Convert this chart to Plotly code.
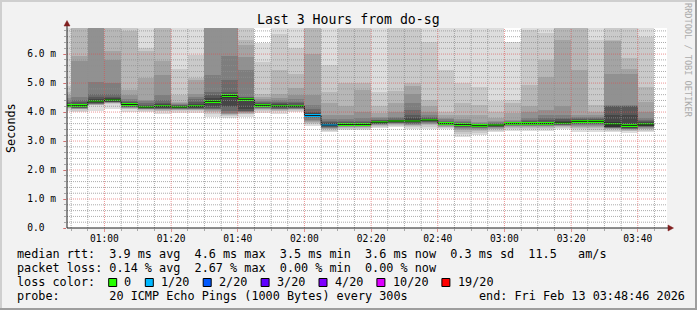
import plotly.graph_objects as go
import pandas as pd

# ------------------------------------------------------------------ data
title_text = "Last 3 Hours from do-sg"
x_start = pd.Timestamp("2026-02-13 00:48:46")
x_end = pd.Timestamp("2026-02-13 03:48:46")
bin_start = pd.date_range("2026-02-13 00:45:00", periods=36, freq="5min")
bin_seconds = 300
y_max = 6.9

# median rtt per 5-minute bin (ms)
median_ms = [4.22, 4.22, 4.38, 4.42, 4.26, 4.17, 4.20, 4.17, 4.20, 4.37, 4.57, 4.44,
             4.23, 4.20, 4.20, 3.88, 3.55, 3.57, 3.57, 3.65, 3.69, 3.69, 3.72, 3.60,
             3.57, 3.53, 3.55, 3.60, 3.60, 3.60, 3.63, 3.68, 3.68, 3.58, 3.54, 3.58]

# lost pings (out of 20) per bin
loss_pings = [0, 0, 0, 0, 0, 0, 0, 0, 0, 0, 0, 0,
              0, 0, 0, 1, 1, 0, 0, 0, 0, 0, 0, 0,
              0, 0, 0, 0, 0, 0, 0, 0, 0, 0, 0, 0]

# the 20 sorted ping times per bin (ms) - the "smoke"
pings_ms = [
    [4.02, 4.09, 4.13, 4.15, 4.17, 4.18, 4.19, 4.20, 4.21, 4.22, 4.25, 4.28, 4.31, 4.35, 4.40, 4.48, 4.58, 4.70, 4.90, 7.30],
    [3.99, 4.05, 4.10, 4.11, 4.12, 4.13, 4.14, 4.15, 4.17, 4.20, 4.24, 4.27, 4.33, 4.42, 4.53, 5.76, 5.93, 7.20, 7.80, 8.60],
    [4.02, 4.24, 4.25, 4.26, 4.27, 4.28, 4.29, 4.30, 4.31, 4.34, 4.42, 4.46, 4.53, 4.61, 5.05, 7.10, 7.40, 7.90, 8.50, 9.30],
    [4.09, 4.29, 4.30, 4.31, 4.32, 4.33, 4.34, 4.35, 4.36, 4.39, 4.45, 4.48, 4.52, 4.61, 4.99, 5.79, 6.10, 7.10, 7.70, 8.40],
    [4.01, 4.10, 4.12, 4.14, 4.15, 4.16, 4.17, 4.19, 4.21, 4.24, 4.28, 4.30, 4.33, 4.38, 4.45, 4.60, 4.76, 6.79, 7.20, 7.90],
    [4.00, 4.04, 4.07, 4.09, 4.10, 4.11, 4.12, 4.13, 4.14, 4.15, 4.19, 4.22, 4.25, 4.30, 4.38, 4.41, 5.16, 6.10, 6.20, 7.30],
    [3.94, 4.02, 4.05, 4.07, 4.09, 4.10, 4.12, 4.13, 4.15, 4.18, 4.23, 4.27, 4.32, 4.40, 4.59, 5.28, 5.76, 7.30, 7.90, 8.80],
    [3.97, 4.03, 4.06, 4.08, 4.10, 4.11, 4.12, 4.13, 4.14, 4.15, 4.19, 4.21, 4.23, 4.25, 4.27, 4.30, 4.33, 4.59, 5.50, 7.40],
    [3.96, 4.02, 4.06, 4.08, 4.10, 4.11, 4.12, 4.13, 4.15, 4.18, 4.22, 4.28, 4.35, 4.45, 4.53, 4.64, 5.10, 5.16, 5.97, 7.50],
    [3.84, 3.92, 3.99, 4.03, 4.06, 4.09, 4.11, 4.13, 4.20, 4.30, 4.42, 4.50, 4.60, 4.70, 5.28, 7.20, 7.60, 8.10, 8.90, 9.80],
    [3.78, 3.88, 3.90, 3.92, 3.95, 3.98, 4.05, 4.18, 4.22, 4.50, 4.62, 4.63, 4.70, 5.10, 5.94, 7.30, 7.80, 8.40, 9.10, 10.2],
    [3.84, 3.93, 3.95, 3.97, 3.99, 4.01, 4.03, 4.05, 4.10, 4.40, 4.48, 4.50, 4.52, 4.53, 5.45, 5.91, 6.30, 6.48, 7.40, 8.20],
    [3.98, 4.04, 4.07, 4.09, 4.11, 4.13, 4.15, 4.17, 4.19, 4.22, 4.25, 4.28, 4.30, 4.33, 4.38, 4.45, 4.53, 4.64, 5.73, 6.37],
    [3.94, 4.02, 4.05, 4.07, 4.09, 4.10, 4.12, 4.14, 4.16, 4.18, 4.23, 4.27, 4.30, 4.35, 4.42, 4.50, 4.64, 5.45, 6.68, 7.60],
    [3.99, 4.04, 4.07, 4.09, 4.10, 4.12, 4.13, 4.15, 4.16, 4.18, 4.23, 4.26, 4.30, 4.35, 4.45, 4.59, 4.82, 5.33, 6.20, 7.40],
    [3.52, 3.58, 3.62, 3.66, 3.70, 3.74, 3.78, 3.82, 3.85, 3.89, 3.93, 3.97, 4.01, 4.10, 4.24, 4.59, 6.02, 7.30, 8.00, 9.10],
    [3.30, 3.36, 3.40, 3.42, 3.44, 3.46, 3.48, 3.50, 3.52, 3.55, 3.59, 3.62, 3.65, 3.70, 3.75, 3.90, 4.30, 4.70, 5.62, 7.50],
    [3.38, 3.43, 3.46, 3.48, 3.50, 3.51, 3.52, 3.53, 3.54, 3.55, 3.60, 3.62, 3.66, 3.70, 3.75, 3.90, 4.20, 4.99, 7.20, 7.90],
    [3.38, 3.43, 3.46, 3.48, 3.50, 3.51, 3.52, 3.53, 3.54, 3.55, 3.59, 3.62, 3.66, 3.70, 3.78, 4.00, 4.75, 4.99, 7.30, 8.10],
    [3.45, 3.50, 3.53, 3.55, 3.57, 3.58, 3.59, 3.60, 3.61, 3.63, 3.67, 3.69, 3.71, 3.74, 3.78, 3.84, 3.96, 4.20, 4.70, 7.40],
    [3.48, 3.53, 3.56, 3.58, 3.60, 3.61, 3.62, 3.63, 3.64, 3.67, 3.70, 3.72, 3.74, 3.78, 3.84, 4.01, 4.30, 4.72, 7.30, 8.00],
    [3.42, 3.48, 3.52, 3.55, 3.57, 3.58, 3.60, 3.62, 3.64, 3.66, 3.72, 3.80, 3.90, 4.07, 4.30, 4.64, 4.90, 4.99, 7.20, 7.80],
    [3.43, 3.50, 3.55, 3.58, 3.60, 3.62, 3.64, 3.66, 3.68, 3.70, 3.75, 3.77, 3.80, 3.84, 3.90, 4.01, 4.20, 4.41, 6.43, 7.50],
    [3.40, 3.45, 3.48, 3.50, 3.52, 3.54, 3.55, 3.56, 3.57, 3.58, 3.62, 3.65, 3.67, 3.70, 3.75, 3.80, 3.90, 4.01, 5.45, 7.30],
    [3.15, 3.25, 3.32, 3.38, 3.42, 3.45, 3.48, 3.50, 3.52, 3.55, 3.58, 3.61, 3.63, 3.66, 3.70, 3.75, 3.90, 4.30, 4.99, 7.40],
    [3.20, 3.28, 3.34, 3.38, 3.42, 3.44, 3.46, 3.48, 3.49, 3.51, 3.55, 3.57, 3.58, 3.60, 3.62, 3.67, 3.90, 4.24, 4.87, 7.20],
    [3.30, 3.36, 3.40, 3.43, 3.45, 3.47, 3.49, 3.50, 3.52, 3.53, 3.56, 3.58, 3.60, 3.62, 3.64, 3.68, 3.78, 4.01, 4.38, 7.30],
    [3.35, 3.42, 3.46, 3.49, 3.51, 3.53, 3.54, 3.55, 3.56, 3.58, 3.61, 3.63, 3.64, 3.66, 3.68, 3.73, 3.96, 4.30, 4.41, 6.43],
    [3.35, 3.42, 3.46, 3.49, 3.51, 3.53, 3.54, 3.55, 3.56, 3.58, 3.62, 3.65, 3.68, 3.72, 3.78, 4.01, 4.20, 4.93, 6.82, 7.40],
    [3.35, 3.42, 3.46, 3.49, 3.51, 3.53, 3.54, 3.55, 3.56, 3.58, 3.63, 3.66, 3.72, 3.78, 3.90, 4.07, 5.22, 5.79, 6.74, 7.60],
    [3.40, 3.45, 3.49, 3.51, 3.53, 3.55, 3.56, 3.57, 3.58, 3.60, 3.67, 3.70, 3.75, 3.80, 3.90, 4.20, 6.48, 7.20, 7.80, 8.50],
    [3.32, 3.40, 3.46, 3.50, 3.53, 3.56, 3.58, 3.60, 3.62, 3.66, 3.71, 3.73, 3.75, 3.78, 3.82, 3.90, 5.45, 7.10, 7.70, 8.40],
    [3.30, 3.38, 3.44, 3.49, 3.53, 3.56, 3.58, 3.60, 3.62, 3.66, 3.71, 3.73, 3.75, 3.78, 3.82, 3.90, 4.01, 4.24, 6.48, 7.30],
    [3.30, 3.36, 3.40, 3.42, 3.44, 3.45, 3.46, 3.47, 3.48, 3.50, 3.66, 3.90, 4.20, 4.22, 4.24, 5.33, 6.45, 6.48, 7.50, 8.20],
    [3.28, 3.33, 3.36, 3.38, 3.40, 3.41, 3.42, 3.44, 3.46, 3.48, 3.60, 3.90, 4.20, 4.22, 4.24, 5.33, 5.50, 5.85, 7.30, 8.00],
    [3.30, 3.36, 3.40, 3.43, 3.45, 3.47, 3.49, 3.51, 3.53, 3.55, 3.61, 3.65, 3.68, 3.72, 3.78, 4.01, 4.36, 4.87, 6.60, 7.40],
]

y_tick_vals = [0, 1, 2, 3, 4, 5, 6]
y_tick_text = ["0.0\u00a0\u00a0", "1.0 m", "2.0 m", "3.0 m", "4.0 m", "5.0 m", "6.0 m"]

loss_levels = [0, 1, 2, 3, 4, 10, 19]
loss_labels = ["0", "1/20", "2/20", "3/20", "4/20", "10/20", "19/20"]
loss_colors = ["#26ff00", "#00b8ff", "#0059ff", "#5e00ff", "#7e00ff", "#dd00ff", "#ff0000"]

line_rtt = "median rtt:  3.9 ms avg  4.6 ms max  3.5 ms min  3.6 ms now  0.3 ms sd  11.5   am/s"
line_loss = "packet loss: 0.14 % avg  2.67 % max  0.00 % min  0.00 % now"
line_color = "loss color:"
line_probe = "probe:       20 ICMP Echo Pings (1000 Bytes) every 300s"
line_end = "end: Fri Feb 13 03:48:46 2026"
watermark = "RRDTOOL / TOBI OETIKER"
y_title = "Seconds"

# ------------------------------------------------------------------ geometry / style
W, H = 697, 310
L, R, T, B = 67, 667, 28, 228
MONO = "DejaVu Sans Mono"
FS_LEG = 11.8
CH = 7.1  # legend char pitch


def pxx(x):
    return (x - L) / (R - L)


def pxy(y):
    return (B - y) / (B - T)


def loss_color(n):
    c = loss_colors[0]
    for lv, col in zip(loss_levels, loss_colors):
        if n >= lv:
            c = col
    return c


centers = bin_start + pd.Timedelta(seconds=bin_seconds / 2)
width_ms = bin_seconds * 1000

fig = go.Figure()

# smoke layers (smokeping style: outer pairs light, inner pairs dark)
half = 10
for i in range(1, half + 1):
    g = int(190 / half * (half - i)) + 50
    lo = [p[i - 1] for p in pings_ms]
    hi = [p[20 - i] for p in pings_ms]
    fig.add_trace(go.Bar(
        x=centers, base=lo, y=[h - l for h, l in zip(hi, lo)], width=width_ms,
        marker=dict(color=f"rgb({g},{g},{g})", line=dict(width=0)),
        hoverinfo="skip", showlegend=False))

# median step line
edges = list(bin_start) + [bin_start[-1] + pd.Timedelta(seconds=bin_seconds)]
fig.add_trace(go.Scatter(
    x=edges, y=median_ms + [median_ms[-1]], mode="lines", line_shape="hv",
    line=dict(color="#1a1a1a", width=1), hoverinfo="skip", showlegend=False))

# median band coloured by loss
band = 0.085
fig.add_trace(go.Bar(
    x=centers, base=[m - band / 2 for m in median_ms], y=[band] * len(median_ms),
    width=width_ms, marker=dict(color=[loss_color(n) for n in loss_pings], line=dict(width=0)),
    hoverinfo="skip", showlegend=False))

shapes = []
# grid above the data (rrdtool draws it on top)
MINOR = "rgba(143,143,143,0.75)"
MAJOR = "rgba(222,79,79,0.6)"
for k in range(1, 35):
    v = k * 0.2
    shapes.append(dict(type="line", xref="paper", yref="y", x0=0, x1=1, y0=v, y1=v, layer="above",
                       line=dict(color=MAJOR if k % 5 == 0 else MINOR, width=1, dash="1px,1px")))
for t in pd.date_range("2026-02-13 00:50:00", "2026-02-13 03:45:00", freq="5min"):
    shapes.append(dict(type="line", xref="x", yref="paper", x0=t, x1=t, y0=0, y1=1, layer="above",
                       line=dict(color=MAJOR if t.minute % 20 == 0 else MINOR, width=1, dash="1px,1px")))

# axes extensions and arrows
AX = "#1f1f1f"
ARR = "#801f1f"
shapes.append(dict(type="line", xref="paper", yref="paper", x0=pxx(67), x1=pxx(670), y0=pxy(228), y1=pxy(228),
                   line=dict(color=AX, width=1), layer="above"))
shapes.append(dict(type="line", xref="paper", yref="paper", x0=pxx(67), x1=pxx(67), y0=pxy(228), y1=pxy(24),
                   line=dict(color=AX, width=1), layer="above"))
shapes.append(dict(type="path", xref="paper", yref="paper",
                   path=f"M {pxx(668)},{pxy(225)} L {pxx(673.5)},{pxy(228)} L {pxx(668)},{pxy(231)} Z",
                   fillcolor=ARR, line=dict(color=ARR, width=0.5), layer="above"))
shapes.append(dict(type="path", xref="paper", yref="paper",
                   path=f"M {pxx(64)},{pxy(26)} L {pxx(67)},{pxy(20.5)} L {pxx(70)},{pxy(26)} Z",
                   fillcolor=ARR, line=dict(color=ARR, width=0.5), layer="above"))

# 3D frame
shapes.append(dict(type="rect", xref="paper", yref="paper", x0=pxx(0), x1=pxx(W), y0=pxy(0), y1=pxy(2),
                   fillcolor="#cfcfcf", line=dict(width=0)))
shapes.append(dict(type="rect", xref="paper", yref="paper", x0=pxx(0), x1=pxx(2), y0=pxy(0), y1=pxy(H),
                   fillcolor="#cfcfcf", line=dict(width=0)))
shapes.append(dict(type="rect", xref="paper", yref="paper", x0=pxx(0), x1=pxx(W), y0=pxy(H - 2), y1=pxy(H),
                   fillcolor="#9e9e9e", line=dict(width=0)))
shapes.append(dict(type="rect", xref="paper", yref="paper", x0=pxx(W - 2), x1=pxx(W), y0=pxy(0), y1=pxy(H),
                   fillcolor="#9e9e9e", line=dict(width=0)))

annotations = []


def txt(s, x, y, size=FS_LEG, anchor="left", color="#000000", angle=0):
    annotations.append(dict(text=s, x=pxx(x), y=pxy(y), xref="paper", yref="paper",
                            xanchor=anchor, yanchor="middle", showarrow=False, borderpad=0,
                            textangle=angle, font=dict(family=MONO, size=size, color=color)))


txt(title_text, W / 2, 19.5, size=13.2, anchor="center")
txt(y_title, 11, 128, angle=-90, anchor="center")
txt(watermark, 688, 60, size=8.6, anchor="center", color="#ababab", angle=90)

txt(line_rtt, 16, 254)
txt(line_loss, 16, 268)
txt(line_color, 16, 282)
txt(line_probe, 16, 296)
txt(line_end, 478, 296)

# loss colour legend boxes
xb = 108.7
for lab, col in zip(loss_labels, loss_colors):
    shapes.append(dict(type="rect", xref="paper", yref="paper", x0=pxx(xb), x1=pxx(xb + 8),
                       y0=pxy(278.5), y1=pxy(286.5), fillcolor=col, line=dict(color="#000000", width=1)))
    tx = xb + 14.6
    txt(lab, tx, 282)
    xb = tx + len(lab) * CH + 14.9

fig.update_layout(
    width=W, height=H,
    margin=dict(l=L, r=W - R, t=T, b=H - B, pad=0),
    paper_bgcolor="#f2f2f2", plot_bgcolor="#ffffff",
    barmode="overlay", bargap=0, showlegend=False,
    shapes=shapes, annotations=annotations,
    xaxis=dict(type="date", range=[x_start, x_end], showgrid=False, zeroline=False,
               tick0="2026-02-13 01:00:00", dtick=20 * 60 * 1000, tickformat="%H:%M",
               ticks="outside", ticklen=3, tickcolor=MAJOR, showline=False,
               ticklabelstandoff=-2,
               tickfont=dict(family=MONO, size=9.6, color="#000000"),
               minor=dict(dtick=5 * 60 * 1000, ticks="outside", ticklen=2, tickcolor=MINOR, showgrid=False)),
    yaxis=dict(range=[0, y_max], showgrid=False, zeroline=False, showline=False,
               tickvals=y_tick_vals, ticktext=y_tick_text,
               ticks="outside", ticklen=3, tickcolor=MAJOR,
               ticklabelstandoff=5,
               tickfont=dict(family=MONO, size=9.6, color="#000000"),
               minor=dict(dtick=0.2, ticks="outside", ticklen=2, tickcolor=MINOR, showgrid=False)),
)

fig.write_html("out.html")
